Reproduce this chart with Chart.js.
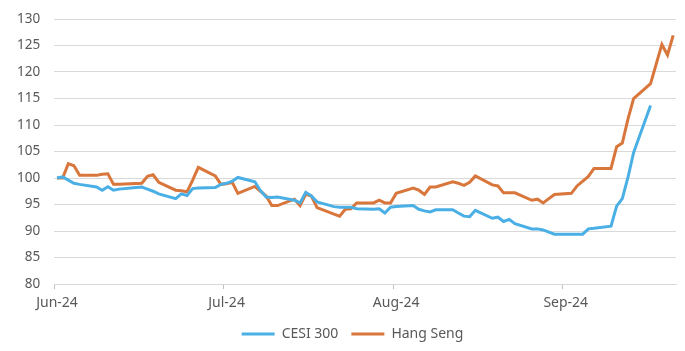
<!DOCTYPE html>
<html>
<head>
<meta charset="utf-8">
<script src="https://cdn.jsdelivr.net/npm/chart.js@4.4.1/dist/chart.umd.min.js"></script>
<style>
  html, body { margin: 0; padding: 0; background: #fff; }
</style>
</head>
<body>
<canvas id="indexChart" width="685" height="351"></canvas>
<script>
// one category per calendar day, 17 Jun 2024 .. 4 Oct 2024
// values are rebased to 100, null = market closed (weekend / holiday)
const startDate = new Date(2024, 5, 17);
const dayCount = 110;
const tickEvery = 30;
const tickLabels = ['Jun-24', 'Jul-24', 'Aug-24', 'Sep-24'];

// rows are weeks, Mon..Sun
const cesi300 = [
  100, 100.2, 99.6, 99.0, 98.8, null, null,
  98.3, 97.7, 98.35, 97.7, 97.9, null, null,
  98.2, 98.3, 97.9, 97.5, 97.0, null, null,
  96.1, 97.0, 96.7, 98.0, 98.1, null, null,
  98.2, 98.8, 99.0, 99.4, 100.1, null, null,
  99.3, 97.6, 96.4, 96.3, 96.4, null, null,
  95.8, 95.3, 97.3, 96.6, 95.5, null, null,
  94.6, 94.5, 94.5, 94.5, 94.2, null, null,
  94.1, 94.2, 93.4, 94.5, 94.6, null, null,
  94.8, 94.1, 93.8, 93.6, 94.0, null, null,
  94.0, 93.4, 92.8, 92.7, 93.9, null, null,
  92.4, 92.6, 91.8, 92.2, 91.4, null, null,
  90.4, 90.4, 90.2, 89.8, 89.4, null, null,
  null, null, 89.4, 90.4, 90.5, null, null,
  90.9, 94.7, 96.1, 100.1, 104.8, null, null,
  113.7, null, null, null, null
];

const hangSeng = [
  100, 100, 102.7, 102.3, 100.5, null, null,
  100.5, 100.7, 100.8, 98.8, 98.8, null, null,
  null, 99.0, 100.3, 100.6, 99.2, null, null,
  97.7, 97.6, 97.4, 99.6, 102.0, null, null,
  100.4, 98.8, 98.9, 99.2, 97.1, null, null,
  98.4, 97.5, 96.6, 94.8, 94.8, null, null,
  96.0, 94.8, 96.9, 96.6, 94.4, null, null,
  93.2, 92.8, 94.1, 94.2, 95.3, null, null,
  95.3, 95.8, 95.3, 95.3, 97.1, null, null,
  98.1, 97.7, 96.9, 98.3, 98.3, null, null,
  99.3, 99.0, 98.6, 99.2, 100.4, null, null,
  98.7, 98.5, 97.2, 97.2, 97.2, null, null,
  95.8, 96.0, 95.3, 96.1, 96.9, null, null,
  97.1, 98.5, null, 100.3, 101.8, null, null,
  101.8, 105.9, 106.6, 111.1, 115.0, null, null,
  117.8, null, 125.2, 123.2, 126.9
];

const days = [];
for (let i = 0; i < dayCount; i++) {
  const d = new Date(startDate);
  d.setDate(d.getDate() + i);
  days.push(d.toISOString().slice(0, 10));
}

const textColor = '#595959';
const gridColor = '#d9d9d9';
const family = "'Noto Sans', sans-serif";

// legend sits a little right of centre in the original
const legendShift = {
  id: 'legendShift',
  afterLayout(chart) {
    chart.legend.left += 13;
    chart.legend.right += 13;
  },
};

new Chart(document.getElementById('indexChart'), {
  type: 'line',
  data: {
    labels: days,
    datasets: [
      {
        label: 'CESI 300',
        data: cesi300,
        borderColor: '#4aafe5',
        backgroundColor: '#4aafe5',
        borderWidth: 3,
        pointRadius: 0,
        spanGaps: true,
      },
      {
        label: 'Hang Seng',
        data: hangSeng,
        borderColor: '#d8763b',
        backgroundColor: '#d8763b',
        borderWidth: 3,
        pointRadius: 0,
        spanGaps: true,
      },
    ],
  },
  plugins: [legendShift],
  options: {
    responsive: false,
    animation: false,
    layout: { padding: { left: 3, right: 9, top: 19, bottom: 0 } },
    plugins: {
      tooltip: { enabled: false },
      legend: {
        position: 'bottom',
        labels: {
          usePointStyle: true,
          pointStyle: 'line',
          pointStyleWidth: 33,
          color: textColor,
          font: { family: family, size: 14 },
          padding: 13,
        },
      },
    },
    scales: {
      x: {
        offset: true,
        afterFit: (scale) => { scale.height = 30; },
        grid: {
          offset: true,
          drawOnChartArea: false,
          tickLength: 5,
          tickColor: (c) => (c.index % tickEvery === 0 ? '#bfbfbf' : 'rgba(0,0,0,0)'),
        },
        border: { color: gridColor },
        ticks: {
          autoSkip: false,
          maxRotation: 0,
          padding: 6,
          color: textColor,
          font: { family: family, size: 14 },
          callback: (v, i) => (i % tickEvery === 0 ? tickLabels[i / tickEvery] : ''),
        },
      },
      y: {
        min: 80,
        max: 130,
        afterFit: (scale) => { scale.paddingTop = 0; },
        ticks: { stepSize: 5, padding: 14, color: textColor, font: { family: family, size: 13.5 } },
        grid: { color: gridColor, drawTicks: false },
        border: { display: false },
      },
    },
  },
});
</script>
</body>
</html>
